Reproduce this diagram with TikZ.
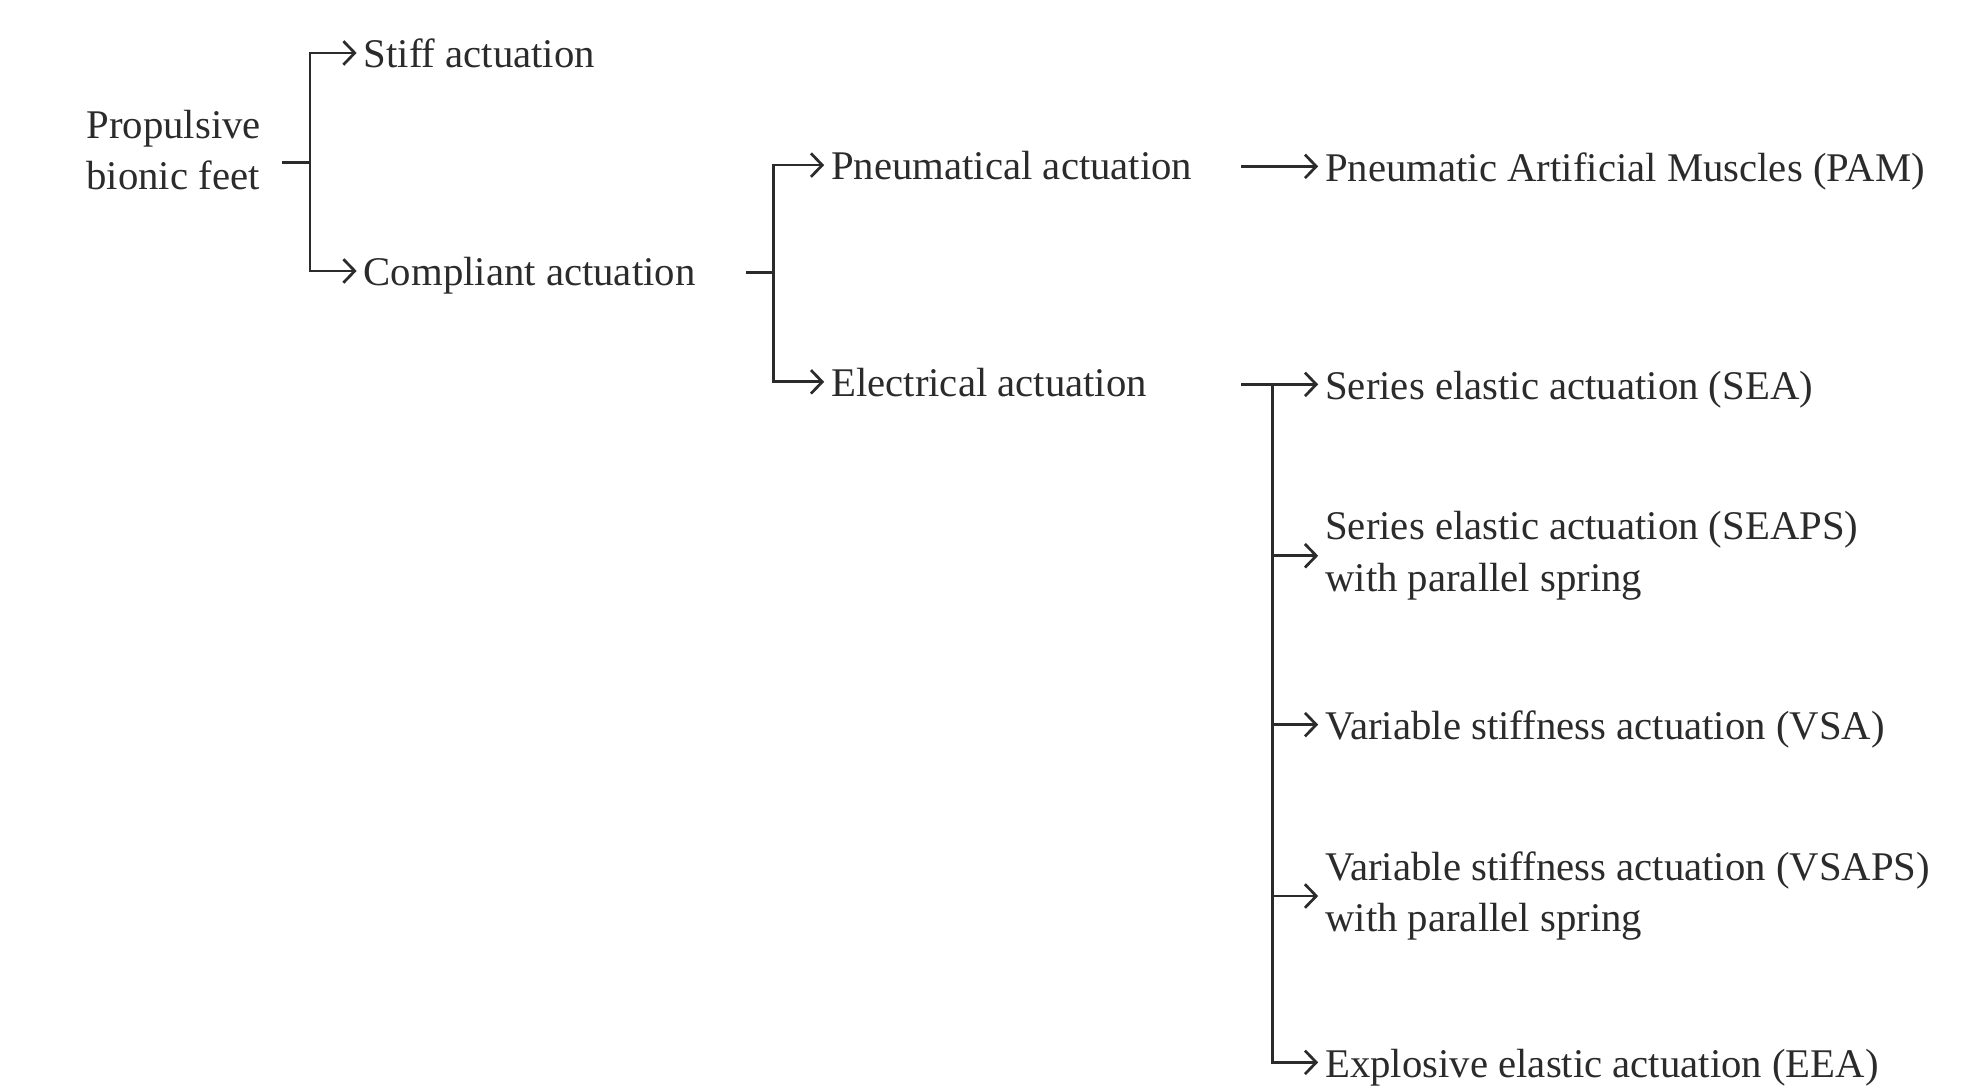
\documentclass[tikz,border=0pt]{standalone}
\usepackage{fontspec}
\setmainfont{Liberation Serif}
\usetikzlibrary{arrows.meta,calc}
\definecolor{INK}{HTML}{2B2B2B}
\begin{document}
\begin{tikzpicture}[x=0.3pt,y=0.3pt]
\tikzset{lbl/.style={anchor=west,inner sep=0pt,text height=8pt,text depth=1pt,INK,font=\fontsize{9.7}{12.3}\selectfont},
 lbltwo/.style={anchor=west,inner sep=0pt,align=left,INK,font=\fontsize{9.7}{12.3}\selectfont},
 bus/.style={INK,line width=0.65pt},
 arr/.style={bus,-{Straight Barb[length=2.7pt,width=5.6pt]},shorten >=1.5pt}}
\useasboundingbox (0,0) rectangle (1568,-862);
% labels
\node[lbltwo] (root) at (68,-119) {Propulsive\\bionic feet};
\node[lbl] (stiff) at (288,-42) {Stiff actuation};
\node[lbl] (compl) at (288,-215) {Compliant actuation};
\node[lbl] (pneu) at (659,-131) {Pneumatical actuation};
\node[lbl] (elec) at (659,-303) {Electrical actuation};
\node[lbl] (pam) at (1051,-132) {Pneumatic Artificial Muscles (PAM)};
\node[lbl] (sea) at (1051,-305) {Series elastic actuation (SEA)};
\node[lbltwo] (seaps) at (1051,-441) {Series elastic actuation (SEAPS)\\with parallel spring};
\node[lbl] (vsa) at (1051,-575) {Variable stiffness actuation (VSA)};
\node[lbltwo] (vsaps) at (1051,-711) {Variable stiffness actuation (VSAPS)\\with parallel spring};
\node[lbl] (eea) at (1051,-843) {Explosive elastic actuation (EEA)};
% junctions
\coordinate (s1) at (224,-129);\coordinate (j1) at (246,-129);
\coordinate (s2) at (592,-216);\coordinate (j2) at (614,-216);
\coordinate (s3) at (985,-132);
\coordinate (s4) at (985,-305);\coordinate (j4) at (1010,-305);
% connectors
\draw[bus] (s1)--(j1);
\draw[arr] (j1)|-(stiff);\draw[arr] (j1)|-(compl);
\draw[bus] (s2)--(j2);
\draw[arr] (j2)|-(pneu);\draw[arr] (j2)|-(elec);
\draw[arr] (s3)--(pam);
\draw[arr] (s4)--(sea);
\draw[arr] (j4)|-(eea);
\foreach \n in {seaps,vsa,vsaps}{\draw[arr] (j4|-\n.west)--(\n);}
\end{tikzpicture}
\end{document}
